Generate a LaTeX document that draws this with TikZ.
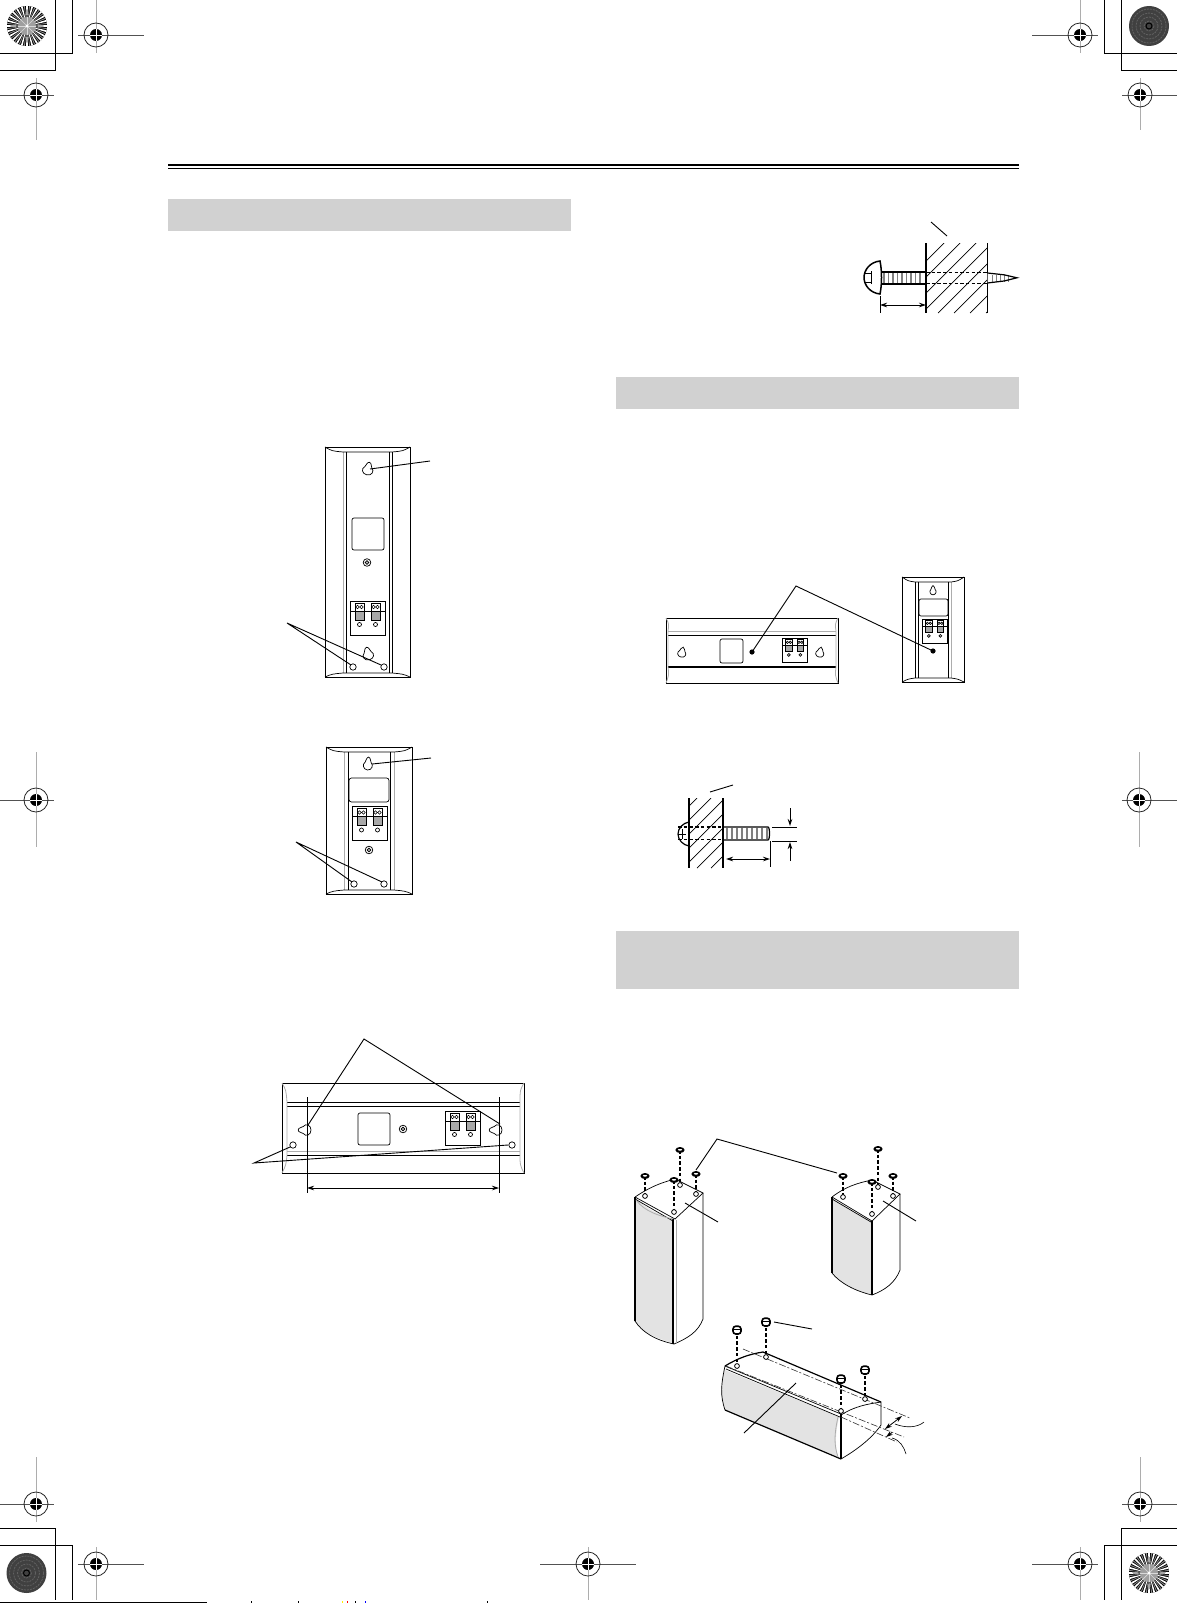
\documentclass[tikz,border=0pt]{standalone}
\usetikzlibrary{arrows.meta}
\definecolor{band}{gray}{0.82}
\definecolor{face}{gray}{0.89}
\definecolor{pale}{gray}{0.68}
\definecolor{rulegray}{gray}{0.32}
\tikzset{
  ln/.style={draw=black,line width=0.7pt},
  frm/.style={draw=black,line width=0.85pt},
  gln/.style={draw=pale,line width=0.8pt},
  lead/.style={draw=black,line width=0.9pt},
  dsh/.style={draw=black,line width=1.05pt,dash pattern=on 3.5pt off 2.2pt},
  dashdot/.style={draw=black!80,line width=0.6pt,dash pattern=on 7pt off 2pt on 2pt off 2pt},
  arr/.style={draw=black,line width=0.8pt,{Stealth[length=7pt,width=4.5pt]}-{Stealth[length=7pt,width=4.5pt]}},
  arrone/.style={draw=black,line width=0.8pt,-{Stealth[length=7pt,width=4.5pt]}},
  regmark/.pic={
    \draw[line width=0.8pt,draw=black!85] (0,0) circle (12);
    \fill[black] (0,0) circle (6);
    \draw[white,line width=0.9pt] (-6,0) -- (6,0) (0,-6) -- (0,6);
  },
  sunburst/.pic={
    \fill[black] (0,0) circle (20);
    \foreach \a in {0,15,...,345}{
      \fill[white] (\a-2.6:8) -- (\a-2.6:20) -- (\a+2.6:20) -- (\a+2.6:8) -- cycle;
      \fill[white!55!black] (\a+7.5-1.4:8) -- (\a+7.5-1.4:20) -- (\a+7.5+1.4:20) -- (\a+7.5+1.4:8) -- cycle;
    }
    \fill[gray!75] (0,0) circle (9);
    \foreach \a in {0,45,...,315}{\draw[white!85!black,line width=0.7pt] (0,0) -- (\a:9);}
    \fill[white] (0,0) circle (1.7);
  },
  rings/.pic={
    \fill[black!75] (0,0) circle (20);
    \foreach \r in {5,9,13,17}{\draw[white!38!black,line width=0.8pt,dash pattern=on 2pt off 1pt] (0,0) circle (\r);}
    \draw[black,line width=1pt] (0,0) circle (3);
  },
  keyhole/.pic={
    \draw[ln,fill=white] (0,-6.8) .. controls (2.6,-6.8) and (2.2,-3) .. (3.6,-1.6)
      .. controls (7,0.8) and (5,6) .. (0,6)
      .. controls (-5,6) and (-7,0.8) .. (-3.6,-1.6)
      .. controls (-2.2,-3) and (-2.6,-6.8) .. cycle;
  },
  hole/.pic={\draw[ln,fill=white] (0,0) circle (3.2);},
  bolt/.pic={\draw[line width=0.7pt] (0,0) circle (3.8);\draw[line width=0.7pt,fill=gray!50] (0,0) circle (1.9);},
  termblock/.pic={
    \draw[line width=0.9pt,fill=white] (0,0) rectangle (35,34);
    \draw[line width=0.9pt] (0,10) -- (35,10);
    \foreach \x in {5,21}{
      \draw[line width=0.9pt,fill=white] (\x,2) rectangle (\x+9,10);
      \draw[line width=0.6pt] (\x+2.5,6) circle (1.7) (\x+6.5,6) circle (1.7);
      \draw[line width=0.7pt,fill=gray!68] (\x,10) rectangle (\x+9,19);
      \draw[line width=0.7pt] (\x+4.5,23.5) circle (2);
    }
  },
  foot/.pic={\fill[black] (0,0) ellipse (4.6 and 3);\fill[white] (0,-0.2) ellipse (2.2 and 0.8);},
  bigfoot/.pic={
    \draw[line width=1.6pt,fill=white,rounded corners=2.8pt] (-4,-3.8) rectangle (4,4);
    \draw[line width=0.9pt] (-4,-0.6) -- (4,-0.6);
  },
  peg/.pic={\draw[line width=0.8pt,fill=white] (0,0) circle (2.4);}
}
\begin{document}
\begin{tikzpicture}[x=1pt,y=-1pt,line cap=butt]
\useasboundingbox (0,0) rectangle (1177,1603);
% ---- crop marks
\begin{scope}[line width=1pt]
\draw (0,71) -- (55,71) -- (55,0);
\draw (0,54) -- (72,54) -- (72,0);
\draw (1177,54) -- (1104,54) -- (1104,0);
\draw (1177,71) -- (1121,71) -- (1121,0);
\draw (0,1528) -- (55,1528) -- (55,1600);
\draw (0,1545) -- (72,1545) -- (72,1600);
\draw (1177,1528) -- (1121,1528) -- (1121,1600);
\draw (1177,1545) -- (1104,1545) -- (1104,1600);
\end{scope}
\pic at (27,26) {sunburst};
\pic at (1149,26) {rings};
\pic at (26.5,1573) {rings};
\pic at (1149,1573) {sunburst};
% registration marks: gray vertical, dark horizontal
\begin{scope}[line width=0.8pt]
\draw[pale,line width=1pt] (96,0) -- (96,53) (36,78) -- (36,140) (1080,0) -- (1080,53) (1140,78) -- (1140,130)
  (36,752) -- (36,847) (1139,752) -- (1139,847)
  (36,1457) -- (36,1522) (96,1547) -- (96,1600) (588,1547) -- (588,1600) (1140,1457) -- (1140,1522) (1080,1547) -- (1080,1600);
\draw[rulegray] (78,35) -- (144,35) (0,95) -- (54,95) (1032,35) -- (1098,35) (1122,95) -- (1177,95)
  (0,800) -- (54,800) (1122,800) -- (1177,800)
  (0,1504) -- (54,1504) (78,1564) -- (144,1564) (540,1564) -- (636,1564) (1122,1504) -- (1177,1504) (1032,1564) -- (1098,1564);
\end{scope}
\foreach \p in {(96,35),(36,95),(1080,35),(1140,95),(36,800),(1139,800),(36,1504),(96,1564),(588,1564),(1140,1504),(1080,1564)}
  \pic at \p {regmark};
% bottom strip
\draw[line width=1.2pt] (0,1602.4) -- (207,1602.4);
\draw[line width=1pt] (251,1601) -- (251,1603) (298,1601) -- (298,1603) (487,1601) -- (487,1603);
\draw[yellow,line width=1pt] (342,1601) -- (342,1603);
\draw[red,line width=1pt] (347,1601) -- (347,1603);
\draw[black,line width=1pt] (355,1601) -- (355,1603);
\draw[blue,line width=1pt] (365,1601) -- (365,1603);
% ---- top rule and bands
\draw[line width=2.8pt] (168,165) -- (1019,165);
\draw[line width=0.7pt] (168,168.5) -- (1019,168.5);
\fill[band] (168,199) rectangle (571,231);
\fill[band] (616,377) rectangle (1019,409);
\fill[band] (616,931) rectangle (1019,989);
% ---- speaker 1 (tall, back view)
\draw[frm] (325,447) rectangle (410,677);
\draw[gln] (343,452) -- (343,673);
\draw[ln] (346,452) -- (346,673) (389,452) -- (389,673) (392,452) -- (392,673);
\draw[ln] (325,447) .. controls (332,451) .. (343,452) -- (392,452) .. controls (403,451) .. (410,447);
\draw[ln] (325,677) .. controls (332,674) .. (343,673) -- (392,673) .. controls (403,674) .. (410,677);
\pic[rotate=-12] at (368,469) {keyhole};
\pic[rotate=12] at (368,654) {keyhole};
\draw[ln,rounded corners=2pt] (352,518) rectangle (384,550);
\pic at (367,562.5) {bolt};
\pic at (350,601) {termblock};
\pic at (353,667) {hole};
\pic at (384,667) {hole};
\draw[lead] (370,469) -- (430,461);
\draw[lead] (351,665) -- (287,623) -- (381,665);
% ---- speaker 2 (short, back view)
\draw[frm] (326,747) rectangle (412,894);
\draw[gln] (344,752) -- (344,890);
\draw[ln] (348,752) -- (348,890) (390,752) -- (390,890);
\draw[gln] (394,752) -- (394,890);
\draw[ln] (326,747) .. controls (333,751) .. (344,752) -- (394,752) .. controls (405,751) .. (412,747);
\draw[ln] (326,894) .. controls (333,891) .. (344,890) -- (394,890) .. controls (405,891) .. (412,894);
\pic[rotate=-5,xscale=0.85] at (368,764) {keyhole};
\draw[ln,rounded corners=2.5pt] (349,778) rectangle (389,802);
\pic at (352,806.5) {termblock};
\pic at (369,850) {bolt};
\pic at (354,884) {hole};
\pic at (384,884) {hole};
\draw[lead] (372,764) -- (431,758);
\draw[lead] (352,882) -- (296,842) -- (382,882);
% ---- speaker 3 (horizontal, back view)
\draw[frm] (282,1083) rectangle (524,1173);
\draw[ln] (287,1102) -- (520,1102) (287,1106) -- (520,1106) (287,1155) -- (520,1155);
\draw[gln] (287,1151) -- (520,1151);
\draw[gln] (282,1083) .. controls (286,1090) .. (287,1102) -- (287,1155) .. controls (286,1165) .. (282,1173);
\draw[gln] (524,1083) .. controls (520,1090) .. (520,1102) -- (520,1155) .. controls (520,1165) .. (524,1173);
\pic[rotate=90] at (305,1130) {keyhole};
\pic[rotate=90] at (496,1130) {keyhole};
\draw[ln] (307,1097) -- (307,1193) (499,1097) -- (499,1193);
\draw[arr] (307,1188) -- (499,1188);
\pic at (293,1145) {hole};
\pic at (512,1145) {hole};
\draw[ln,rounded corners=2pt] (358,1113) rectangle (390,1145);
\pic at (403,1129) {bolt};
\pic at (445,1111) {termblock};
\draw[lead] (308,1125) -- (364,1039) -- (500,1124);
\draw[lead] (290,1147) -- (254,1163) -- (508,1145);
% ---- wall screw
\begin{scope}
\clip (926,243) rectangle (987,313);
\foreach \c in {1187,1203,...,1315}{\draw[line width=0.7pt] (\c-243,243) -- (\c-313,313);}
\end{scope}
\draw[line width=1.3pt] (926,243) -- (926,313);
\draw[line width=0.9pt] (987,243) -- (987,313);
\draw[lead] (931,222) -- (947,236);
\draw[dsh] (926,272.5) -- (987,272.5) (926,283.5) -- (987,283.5);
\draw[line width=1.5pt,fill=white] (880,261) .. controls (870,262) and (864,270) .. (864,277.5)
   .. controls (864,285) and (870,293) .. (880,294) .. controls (882,285) and (882,270) .. (880,261) -- cycle;
\draw[line width=0.8pt] (865,273) -- (871,273) (865,282) -- (871,282) (871,271) -- (871,284);
\draw[line width=1.3pt] (881,272) -- (926,272) (881,284) -- (926,284);
\foreach \x in {884,888.5,...,924}{\draw[gray,line width=1.1pt] (\x,273) -- (\x,283);}
\fill[white] (987.5,273) -- (1017,277.8) -- (987.5,283) -- cycle;
\foreach \x in {992,996,...,1008}{\draw[gray,line width=1pt] (\x,274.5) -- (\x,281.5);}
\draw[line width=1.2pt] (987.5,273) -- (1004,274.8) -- (1017,277.8) -- (1004,281) -- (987.5,283);
\draw[ln] (880,296) -- (880,313);
\draw[arr] (880,305) -- (926,305);
% ---- small horizontal speaker
\draw[frm] (666,618) rectangle (838,683);
\draw[gln] (668,631) -- (836,631);
\draw[ln] (668,635.5) -- (836,635.5);
\draw[line width=1.1pt] (668,667) -- (836,667);
\draw[gln] (666,618) .. controls (669,624) .. (668,631) -- (668,667) .. controls (669,675) .. (666,683);
\draw[gln] (838,618) .. controls (835,624) .. (836,631) -- (836,667) .. controls (835,675) .. (838,683);
\draw[ln,rounded corners=2pt] (720,639) rectangle (743,663);
\pic[rotate=-12,scale=0.78] at (682,652.5) {keyhole};
\pic[rotate=-12,scale=0.78] at (820,652.5) {keyhole};
\pic[scale=0.72] at (782,638) {termblock};
\fill (752,652) circle (2.6);
% ---- small vertical speaker
\draw[frm] (902,577) rectangle (964,682);
\draw[ln] (915,582) -- (915,678) (918,582) -- (918,678) (948,582) -- (948,678);
\draw[gln] (951,582) -- (951,678);
\draw[ln] (902,577) .. controls (908,581) .. (915,582) -- (951,582) .. controls (958,581) .. (964,577);
\draw[ln] (902,682) .. controls (908,679) .. (915,678) -- (951,678) .. controls (958,679) .. (964,682);
\pic[xscale=0.58,yscale=0.72] at (933,590.5) {keyhole};
\draw[ln,rounded corners=2pt] (919,599) rectangle (948,616);
\pic[scale=0.72] at (922,619) {termblock};
\fill (933,651) circle (2.6);
\draw[lead] (752,652) -- (796,586) -- (933,651);
% ---- protruding screw
\begin{scope}
\clip (689,798) rectangle (723,868);
\foreach \c in {1495,1509,...,1579}{\draw[line width=0.7pt] (\c-798,798) -- (\c-868,868);}
\end{scope}
\draw[line width=1.3pt] (689,798) -- (689,868) (723,798) -- (723,868);
\draw[lead] (710,792) -- (733,785);
\draw[line width=1.2pt] (689,822) .. controls (683,823) and (678,828) .. (678,834) .. controls (678,840) and (683,845) .. (689,846);
\draw[line width=0.7pt] (678,834) -- (686,834) (682,829) -- (682,839);
\draw[dsh] (678,827) -- (723,827) (678,839.5) -- (723,839.5);
\draw[line width=1.2pt] (723,827) -- (768,827) .. controls (770,827) and (770,840) .. (768,840) -- (723,840);
\foreach \x in {727,732,...,767}{\draw[gray,line width=1.1pt] (\x,828) -- (\x,839);}
\draw[ln] (770,841) -- (770,867);
\draw[arr] (726,859) -- (770,859);
\draw[ln] (772,827) -- (797,827) (772,841) -- (797,841);
\draw[arrone] (790,808) -- (790,826);
\draw[arrone] (790,861) -- (790,842);
% ---- isometric speakers: tall
\fill[face] (635,1197) .. controls (647,1210) and (660,1215) .. (673,1219) -- (673,1343) .. controls (655,1338) and (642,1332) .. (635,1321) -- cycle;
\draw[line width=1.2pt] (635,1197) -- (635,1321);
\draw[ln] (635,1321) .. controls (642,1332) and (655,1340) .. (674,1344);
\draw[ln] (674,1344) .. controls (688,1338) and (698,1332) .. (703,1319) -- (703,1193);
\draw[line width=1.1pt] (673,1219) -- (673,1344);
\draw[gln] (676,1220) -- (676,1343);
\draw[ln] (635,1197) .. controls (650,1187) and (660,1183) .. (675,1179) -- (703,1193) -- (675,1219) -- (635,1197);
\draw[ln] (635,1199) -- (673,1221);
\draw[gln] (636,1200) .. controls (645,1212) and (660,1216) .. (673,1219);
\foreach \fx/\fy/\hx/\hy in {680/1150/680/1185,645/1176/645/1196,696/1174/696/1194,674/1180/674/1212}{
  \draw[dsh] (\fx,\fy) -- (\hx,\hy);
  \pic at (\hx,\hy) {peg};
  \pic at (\fx,\fy) {foot};
}
\draw[lead] (696,1170) -- (717,1139) -- (837,1173);
\draw[lead] (685,1203) -- (718,1222);
% ---- isometric speaker: short
\fill[face] (832,1197) .. controls (843,1208) and (858,1214) .. (872,1221) -- (872,1295) .. controls (855,1290) and (840,1283) .. (832,1273) -- cycle;
\draw[line width=1.3pt] (832,1197) -- (832,1273);
\draw[ln] (832,1273) .. controls (840,1283) and (855,1291) .. (872,1295);
\draw[ln] (872,1295) .. controls (885,1290) and (895,1283) .. (900,1270) -- (900,1194);
\draw[line width=1.5pt] (872,1221) -- (872,1295);
\draw[ln] (832,1197) .. controls (845,1187) and (857,1183) .. (872,1180) -- (900,1194) -- (872,1221) -- (832,1197);
\draw[ln] (832,1199) -- (871,1222);
\foreach \fx/\fy/\hx/\hy in {878/1149/878/1187,843/1176/843/1197,893/1176/893/1196,872/1182/872/1214}{
  \draw[dsh] (\fx,\fy) -- (\hx,\hy);
  \pic at (\hx,\hy) {peg};
  \pic at (\fx,\fy) {foot};
}
\draw[lead] (883,1201) -- (916,1221);
% ---- isometric speaker: centre
\fill[face] (725,1370) -- (839,1417) .. controls (835,1435) and (835,1445) .. (838,1457) -- (725,1410) .. controls (720,1395) and (720,1385) .. (725,1370) -- cycle;
\draw[ln] (725,1366) .. controls (721,1385) and (720,1395) .. (725,1410);
\draw[line width=1.2pt] (725,1410) -- (841,1459);
\draw[line width=1.2pt] (725,1366) .. controls (738,1358) and (750,1354) .. (763,1352) -- (881,1402);
\draw[ln] (841,1415) .. controls (855,1406) and (868,1404) .. (881,1402) -- (881,1425) .. controls (872,1438) and (858,1449) .. (841,1459);
\draw[ln] (725,1366) -- (841,1414) (726,1369) -- (840,1417);
\draw[line width=1.1pt] (841,1414) -- (841,1459);
\draw[gln] (838,1417) .. controls (834,1435) and (834,1445) .. (838,1457);
\draw[dashdot] (743,1349) -- (910,1418);
\draw[dashdot] (726,1366) -- (904,1437);
\draw[dashdot] (841,1417) -- (897,1442);
\foreach \fx/\fy/\hx/\hy in {737/1330/737/1366,766/1322/766/1357,841/1379/841/1411,865/1370/865/1399}{
  \draw[dsh] (\fx,\fy) -- (\hx,\hy);
  \pic at (\hx,\hy) {peg};
  \pic at (\fx,\fy) {bigfoot};
}
\draw[lead] (774,1322) -- (812,1329);
\draw[lead] (796,1383) -- (744,1433);
\draw[arr] (902,1416) -- (885,1429);
\draw[arrone] (892,1432.5) -- (886,1437);
\draw[line width=0.6pt] (895,1424) .. controls (905,1428) and (917,1428) .. (924,1422);
\draw[line width=0.6pt] (892,1438) .. controls (900,1440) and (904,1447) .. (906,1454);
\end{tikzpicture}
\end{document}
